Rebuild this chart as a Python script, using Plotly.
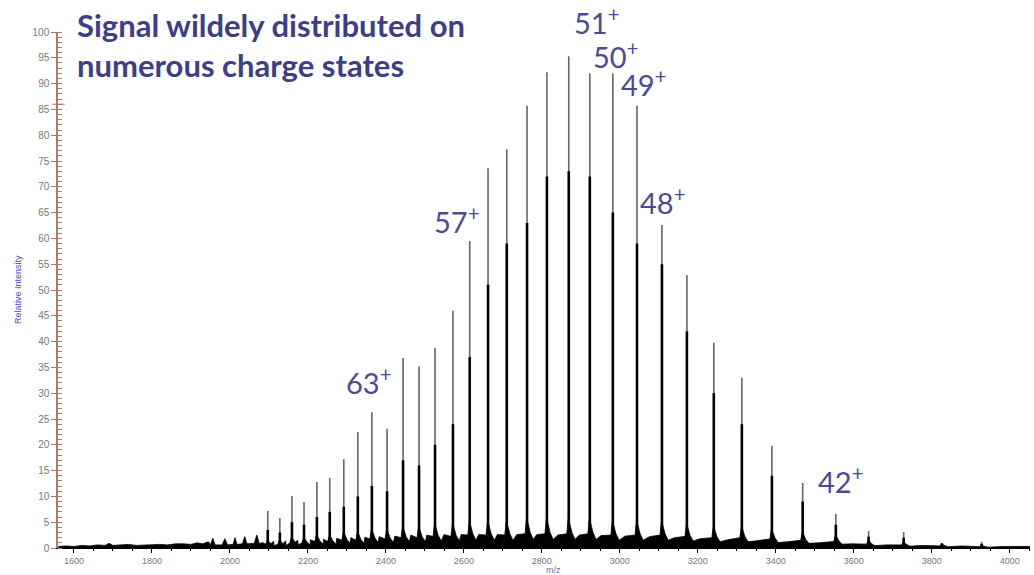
import plotly.graph_objects as go

# ---- Data ----
# Charge-state peaks: m/z, apex intensity, dense (dark) core height, base shoulder height
peak_mz = [2097, 2128, 2159, 2190, 2223, 2256, 2292, 2328, 2364, 2403, 2444, 2485,
           2526, 2572, 2615, 2662, 2710, 2762, 2813, 2869, 2923, 2982, 3044, 3108,
           3172, 3241, 3313, 3390, 3469, 3554, 3638, 3728, 3826, 3928]
peak_height = [7.2, 5.8, 10.1, 8.9, 12.8, 13.6, 17.2, 22.5, 26.3, 23.1, 36.8, 35.2,
               38.8, 46.0, 59.5, 73.6, 77.3, 85.7, 92.2, 95.3, 92.0, 92.0, 85.7, 62.6,
               52.9, 39.8, 33.0, 19.8, 12.6, 6.6, 3.3, 3.1, 0.9, 1.2]
peak_core = [3.5, 3.0, 5.0, 4.5, 6.0, 7.0, 8.0, 10.0, 12.0, 11.0, 17.0, 16.0,
             20.0, 24.0, 37.0, 51.0, 59.0, 63.0, 72.0, 73.0, 72.0, 65.0, 59.0, 55.0,
             42.0, 30.0, 24.0, 14.0, 9.0, 4.5, 2.2, 2.0, 0.9, 0.8]
peak_base = [1.5, 1.5, 2.0, 2.0, 2.5, 2.5, 3.0, 3.0, 3.5, 3.5, 4.0, 4.0,
             4.5, 4.5, 5.0, 5.0, 5.0, 5.5, 5.5, 5.5, 5.5, 5.0, 5.0, 5.0,
             4.5, 4.0, 4.0, 3.5, 3.0, 2.5, 1.5, 1.2, 0.8, 0.5]

# Baseline / chemical noise (m/z, intensity)
noise_mz = [1560, 1580, 1600, 1620, 1640, 1660, 1680, 1690, 1700, 1720, 1740, 1760,
            1780, 1800, 1820, 1840, 1860, 1880, 1900, 1915, 1930, 1945, 1950, 1956,
            1962, 1980, 1987, 1994, 2008, 2013, 2018, 2032, 2038, 2044, 2062, 2069,
            2075, 2085,
            2112, 2143, 2174, 2206, 2240, 2274, 2310, 2346, 2383, 2423, 2464, 2505,
            2549, 2593, 2638, 2686, 2736, 2787, 2841, 2896, 2952, 3013, 3076, 3140,
            3206, 3277, 3351, 3430, 3511, 3596, 3683, 3777, 3877, 3980, 4052]
noise_int = [0.3, 0.4, 0.3, 0.5, 0.4, 0.6, 0.5, 0.9, 0.5, 0.6, 0.7, 0.5,
             0.6, 0.6, 0.7, 0.6, 0.8, 0.8, 0.7, 1.0, 0.8, 1.2, 0.6, 1.9,
             0.6, 0.6, 1.8, 0.6, 0.7, 2.0, 0.7, 0.8, 2.2, 0.8, 0.9, 2.5,
             0.9, 1.0,
             1.3, 1.4, 1.5, 1.6, 1.7, 1.9, 2.0, 2.1, 2.2, 2.3, 2.5, 2.5,
             2.6, 2.6, 2.6, 2.6, 2.6, 2.6, 2.5, 2.5, 2.4, 2.3, 2.2, 2.0,
             1.8, 1.6, 1.4, 1.2, 1.0, 0.8, 0.6, 0.5, 0.4, 0.3, 0.3]

# Charge-state labels: text, m/z position of label centre, vertical position (paper)
label_text = ["51", "50", "49", "48", "57", "63", "42"]
label_mz = [2941, 2990, 3060, 3110, 2582, 2356, 3567]
label_y = [1.021, 0.955, 0.901, 0.672, 0.636, 0.324, 0.132]

x_ticks = [1600, 1800, 2000, 2200, 2400, 2600, 2800, 3000, 3200, 3400, 3600, 3800, 4000]

# ---- Build traces ----
pts = list(zip(noise_mz, noise_int))
for m, b in zip(peak_mz, peak_base):
    pts += [(m - 5, b * 0.5), (m - 1.5, b), (m + 2, b * 0.9), (m + 8, b * 0.55), (m + 16, b * 0.3)]
pts.sort()
fx = [p[0] for p in pts]
fy = [p[1] for p in pts]

tip_x, tip_y, core_x, core_y = [], [], [], []
for m, h, c in zip(peak_mz, peak_height, peak_core):
    tip_x += [m, m, None]
    tip_y += [0, h, None]
    core_x += [m, m, None]
    core_y += [0, c, None]

fig = go.Figure()
fig.add_trace(go.Scatter(x=fx, y=fy, mode="lines", line=dict(color="black", width=0.8),
                         fill="tozeroy", fillcolor="black", hoverinfo="skip", showlegend=False))
fig.add_trace(go.Scatter(x=tip_x, y=tip_y, mode="lines", line=dict(color="#666666", width=1.6),
                         hoverinfo="skip", showlegend=False))
fig.add_trace(go.Scatter(x=core_x, y=core_y, mode="lines", line=dict(color="black", width=2.6),
                         hoverinfo="skip", showlegend=False))

axis_red = "#b07868"
fig.update_layout(
    width=1034, height=575,
    margin=dict(l=58, r=4, t=32, b=27),
    paper_bgcolor="white", plot_bgcolor="white",
    font=dict(family="Arial", color="#777777"),
    xaxis=dict(range=[1559, 4052], showline=True, linecolor="black", linewidth=1,
               ticks="outside", ticklen=4, tickcolor="black", tickvals=x_ticks,
               tickfont=dict(size=9, color="#777777"),
               minor=dict(ticks="outside", ticklen=2, dtick=50, tickcolor="black"),
               showgrid=False, zeroline=False),
    yaxis=dict(range=[0, 100], showline=True, linecolor=axis_red, linewidth=1.5,
               ticks="outside", ticklen=5, dtick=5, tickcolor=axis_red,
               tickfont=dict(size=10, color="#777777"),
               minor=dict(ticks="inside", ticklen=4, dtick=1, tickcolor=axis_red),
               showgrid=False, zeroline=False),
)

# Title text
fig.add_annotation(xref="paper", yref="paper", x=0.0175, y=1.055, xanchor="left", yanchor="top",
                   text="<b>Signal wildely distributed on<br>numerous charge states</b>",
                   showarrow=False, align="left",
                   font=dict(family="Lato", size=31, color="#3d3d8a"))

for t, m, y in zip(label_text, label_mz, label_y):
    fig.add_annotation(xref="x", yref="paper", x=m, y=y, xanchor="center", yanchor="middle",
                       text=t + "<sup>+</sup>", showarrow=False,
                       font=dict(family="Lato", size=29, color="#4a4a98"))

# Axis titles
fig.add_annotation(xref="paper", yref="paper", x=0, y=0.5, xshift=-40, xanchor="center",
                   textangle=-90, text="Relative Intensity", showarrow=False,
                   font=dict(family="Arial", size=9, color="#4a4ad8"))
fig.add_annotation(xref="paper", yref="paper", x=0.51, y=0, yshift=-15, yanchor="top",
                   text="m/z", showarrow=False,
                   font=dict(family="Arial", size=9, color="#6a6ab8"))

# small marker tick on the intensity axis
fig.add_shape(type="line", xref="paper", yref="y", x0=-0.006, x1=0.007, y0=86, y1=86,
              line=dict(color=axis_red, width=1))

fig.write_html("out.html", config={"displayModeBar": False},
               post_script="document.body.style.margin='0px';")
